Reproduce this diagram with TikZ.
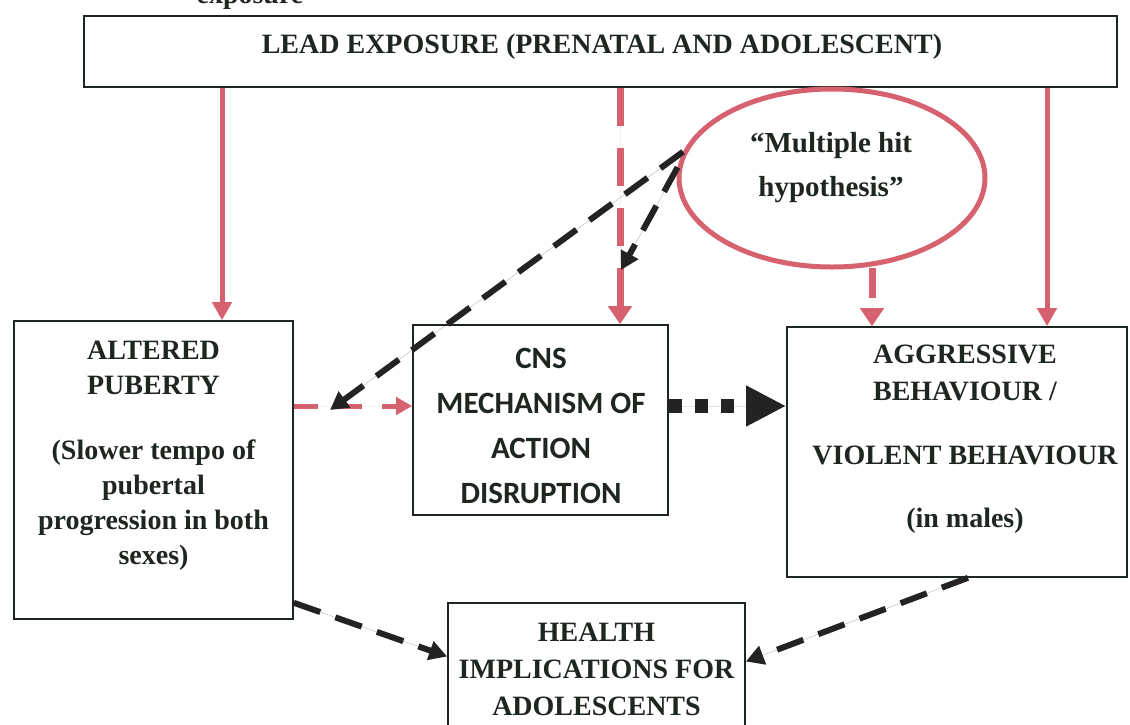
\documentclass[tikz,border=0pt]{standalone}
\usepackage{fontspec}
\setmainfont{Liberation Serif}
\newfontfamily\cnsfont{Carlito}
\usetikzlibrary{arrows.meta,shapes.geometric}
\definecolor{leadpink}{RGB}{214,98,112}
\definecolor{ink}{RGB}{30,38,32}
\definecolor{linkgray}{RGB}{35,35,35}
\begin{document}
\begin{tikzpicture}[x=1pt,y=-1pt,
  box/.style={draw=ink, line width=1.6pt, inner sep=0pt},
  txt/.style={text=ink, font=\bfseries\fontsize{28}{35}\selectfont, align=center, inner sep=0pt},
  sanstxt/.style={text=ink, font=\cnsfont\bfseries\fontsize{31}{45}\selectfont, align=center, inner sep=0pt},
  pinksolid/.style={draw=leadpink, line width=5pt, -{Triangle[width=19pt,length=18pt]}, fill=leadpink},
  pinkdash/.style={draw=leadpink, line width=7pt, dash pattern=on 38pt off 22pt, -{Triangle[width=23pt,length=18pt]}, fill=leadpink},
  pinkstub/.style={draw=leadpink, line width=7pt, dash pattern=on 30pt off 14pt, -{Triangle[width=23pt,length=18pt]}, fill=leadpink},
  pinkthin/.style={draw=leadpink, line width=5pt, dash pattern=on 24pt off 20pt, -{Triangle[width=17pt,length=16pt]}, fill=leadpink},
  blackdash/.style={draw=linkgray, line width=6pt, dash pattern=on 28pt off 16pt, -{Triangle[width=19pt,length=18pt]}, fill=linkgray},
  blackdots/.style={draw=linkgray, line width=14pt, dash pattern=on 13pt off 13pt, -{Triangle[width=38pt,length=40pt]}, fill=linkgray}
]
\useasboundingbox (0,0) rectangle (1130,724);

% caption line running above the frame
\node[txt, anchor=base] (capt) at (250,3) {exposure};

% boxes
\node[box, minimum width=1033pt, minimum height=71pt] (top) at (600.5,51.5) {};
\node[box, minimum width=279pt, minimum height=298pt] (alt) at (153.5,470) {};
\node[box, minimum width=255pt, minimum height=190pt] (cns) at (540.5,420) {};
\node[box, minimum width=340pt, minimum height=250pt] (agg) at (957,452) {};
\node[box, minimum width=297pt, minimum height=125pt] (hlth) at (596.5,665.5) {};
\node[ellipse, draw=leadpink, line width=5pt, minimum width=306pt, minimum height=178pt, inner sep=0pt] (hyp) at (832,178) {};

% texts
\node[txt, anchor=base] (toptxt) at (602,53) {LEAD EXPOSURE (PRENATAL AND ADOLESCENT)};
\node[txt, anchor=north] (alttxt) at (153.5,341) {ALTERED\\PUBERTY\\[30pt](Slower tempo of\\pubertal\\progression in both\\sexes)};
\node[sanstxt, anchor=north] (cnstxt) at (541,348) {CNS\\MECHANISM OF\\ACTION\\DISRUPTION};
\node[txt, anchor=north, font=\bfseries\fontsize{28}{37}\selectfont] (aggtxt) at (965,345) {AGGRESSIVE\\BEHAVIOUR /\\[27pt]VIOLENT BEHAVIOUR\\[26pt](in males)};
\node[txt, anchor=north, font=\bfseries\fontsize{28}{37}\selectfont] (hlthtxt) at (596.5,623) {HEALTH\\IMPLICATIONS FOR\\ADOLESCENTS};
\node[txt, anchor=north, font=\bfseries\fontsize{29}{44}\selectfont] (hyptxt) at (831,132) {“Multiple hit\\hypothesis”};

% reference positions for the connectors
\coordinate (xl) at (222,0);
\coordinate (xm) at (620,0);
\coordinate (xe) at (872,0);
\coordinate (xr) at (1047,0);
\coordinate (ym) at (0,406);
\coordinate (tipA) at (330,410);
\coordinate (tipB) at (621,270);

% pink links from lead exposure
\draw[pinksolid] (top.south -| xl) -- (alt.north -| xl);
\draw[pinkdash] (top.south -| xm) -- (cns.north -| xm);
\draw[pinksolid] (top.south -| xr) -- (agg.north -| xr);
\draw[pinkstub] ([yshift=2pt]hyp.south -| xe) -- (agg.north -| xe);
\draw[pinkthin] (alt.east |- ym) -- (cns.west |- ym);

% black links
\draw[blackdash] (hyp.170) -- (tipA);
\draw[blackdash] (hyp.176) -- (tipB);
\draw[blackdots] (cns.east |- ym) -- (agg.west |- ym);
\draw[blackdash] ([yshift=17pt]alt.south east) -- ([yshift=9pt]hlth.west);
\draw[blackdash] ([xshift=11pt]agg.south) -- ([yshift=4pt]hlth.east);
\end{tikzpicture}
\end{document}
